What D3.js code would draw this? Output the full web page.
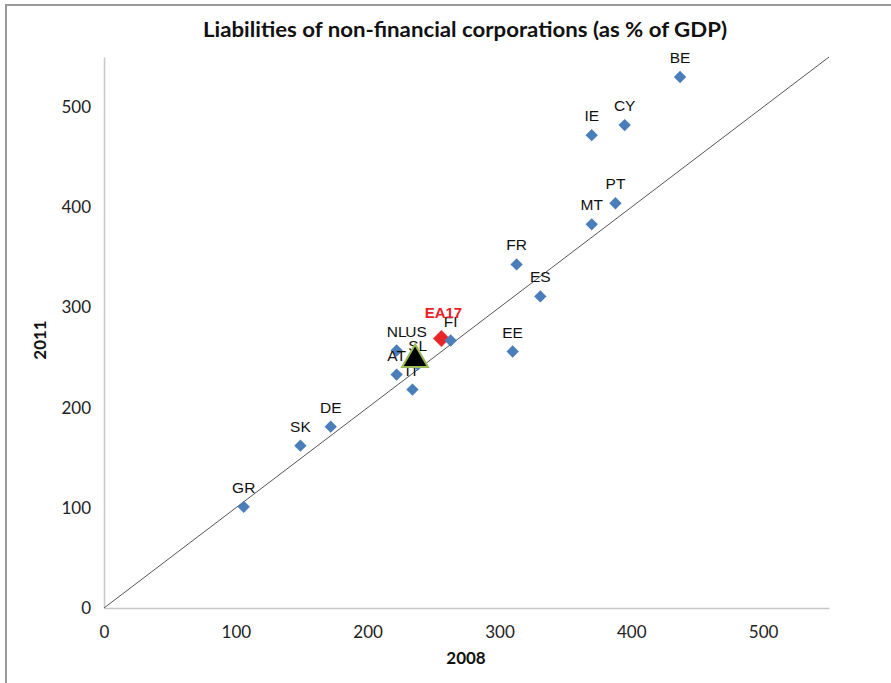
<!DOCTYPE html>
<html><head><meta charset="utf-8">
<script src="https://cdn.jsdelivr.net/npm/d3@7"></script>
<style>body{margin:0;background:#fff;overflow:hidden}</style>
</head><body><svg id="c" width="891" height="683"></svg>
<script>
// ---- data ----
const countryLabels = ["GR","SK","DE","AT","IT","NL","SL","FI","EE","FR","ES","MT","IE","PT","CY","BE"];
const countries2008 = [106,149,172,222,234,222,238,263,310,313,331,370,370,388,395,437];
const countries2011 = [101,162,181,233,218,257,243,267,256,343,311,383,472,404,482,530];
const aggregateLabels = ["EA17"];
const aggregate2008 = [256];
const aggregate2011 = [269];
const usLabels = ["US"];
const us2008 = [236];
const us2011 = [251];
const xTicks = [0,100,200,300,400,500];
const yTicks = [0,100,200,300,400,500];
const titleText = "Liabilities of non-financial corporations (as % of GDP)";
const xTitle = "2008", yTitle = "2011";

const svg = d3.select("#c");
svg.append("rect").attr("x",0).attr("y",0).attr("width",891).attr("height",683).attr("fill","#fff");
// outer chart border
svg.append("rect").attr("x",6).attr("y",5).attr("width",950).attr("height",750)
  .attr("fill","#fff").attr("stroke","#9a9a9a").attr("stroke-width",2);

const x = d3.scaleLinear().domain([0,550]).range([104,829]);
const y = d3.scaleLinear().domain([0,550]).range([608,57]);

const axisFont = "Lato, 'Open Sans', sans-serif";
const labelFont = "'Liberation Sans', Arial, sans-serif";

// axes (no tick marks)
const gx = svg.append("g").attr("transform",`translate(0,${y(0)})`)
  .call(d3.axisBottom(x).tickValues(xTicks).tickSize(0).tickPadding(18));
gx.select(".domain").attr("stroke","#c8c8c8").attr("stroke-width",1.5);
gx.selectAll("text").attr("font-family",axisFont).attr("font-size",17).attr("fill","#222");
const gy = svg.append("g").attr("transform",`translate(${x(0)},0)`)
  .call(d3.axisLeft(y).tickValues(yTicks).tickSize(0).tickPadding(13));
gy.select(".domain").attr("stroke","#c8c8c8").attr("stroke-width",1.5);
gy.selectAll("text").attr("font-family",axisFont).attr("font-size",17).attr("fill","#222");

// 45-degree reference line
svg.append("line").attr("x1",x(0)).attr("y1",y(0)).attr("x2",x(550)).attr("y2",y(550))
  .attr("stroke","#555").attr("stroke-width",1);

// title and axis titles
svg.append("text").attr("x",465).attr("y",37).attr("text-anchor","middle")
  .attr("font-family",axisFont).attr("font-weight","bold").attr("font-size",21)
  .attr("textLength",524).attr("lengthAdjust","spacingAndGlyphs")
  .attr("fill","#111").text(titleText);
svg.append("text").attr("x",466).attr("y",664).attr("text-anchor","middle")
  .attr("font-family",axisFont).attr("font-weight","bold").attr("font-size",17).attr("fill","#111").text(xTitle);
svg.append("text").attr("transform","translate(46,340) rotate(-90)").attr("text-anchor","middle")
  .attr("font-family",axisFont).attr("font-weight","bold").attr("font-size",17).attr("fill","#111").text(yTitle);

// aggregate EA17 (red, larger)
const agg = aggregateLabels.map((l,i)=>({l, x:aggregate2008[i], y:aggregate2011[i]}));
svg.selectAll(".agg").data(agg).join("path").attr("class","agg")
  .attr("d", d3.symbol().type(d3.symbolSquare).size(150)())
  .attr("transform",d=>`translate(${x(d.x)},${y(d.y)}) rotate(45)`)
  .attr("fill","#e8262a").attr("stroke","#fff").attr("stroke-width",0.5);

// countries
const pts = countryLabels.map((l,i)=>({l, x:countries2008[i], y:countries2011[i]}));
svg.selectAll(".pt").data(pts).join("path").attr("class","pt")
  .attr("d", d3.symbol().type(d3.symbolSquare).size(76)())
  .attr("transform",d=>`translate(${x(d.x)},${y(d.y)}) rotate(45)`)
  .attr("fill","#4a7ebb");
svg.selectAll(".ptl").data(pts).join("text").attr("class","ptl")
  .attr("x",d=>x(d.x)).attr("y",d=>y(d.y)-14).attr("text-anchor","middle")
  .attr("font-family",labelFont).attr("font-size",15.5).attr("fill","#111").text(d=>d.l);

svg.selectAll(".aggl").data(agg).join("text").attr("class","aggl")
  .attr("x",d=>x(d.x)+2).attr("y",d=>y(d.y)-21).attr("text-anchor","middle")
  .attr("font-family",labelFont).attr("font-weight","bold").attr("font-size",15).attr("fill","#ee1c25").text(d=>d.l);

// US (black triangle with green outline)
const us = usLabels.map((l,i)=>({l, x:us2008[i], y:us2011[i]}));
svg.selectAll(".us").data(us).join("path").attr("class","us")
  .attr("d", d3.symbol().type(d3.symbolTriangle).size(290)())
  .attr("transform",d=>`translate(${x(d.x)},${y(d.y)+3})`)
  .attr("fill","#000").attr("stroke","#9bbb59").attr("stroke-width",2);
svg.selectAll(".usl").data(us).join("text").attr("class","usl")
  .attr("x",d=>x(d.x)+1).attr("y",d=>y(d.y)-20).attr("text-anchor","middle")
  .attr("font-family",labelFont).attr("font-size",15.5).attr("fill","#111").text(d=>d.l);
</script></body></html>
